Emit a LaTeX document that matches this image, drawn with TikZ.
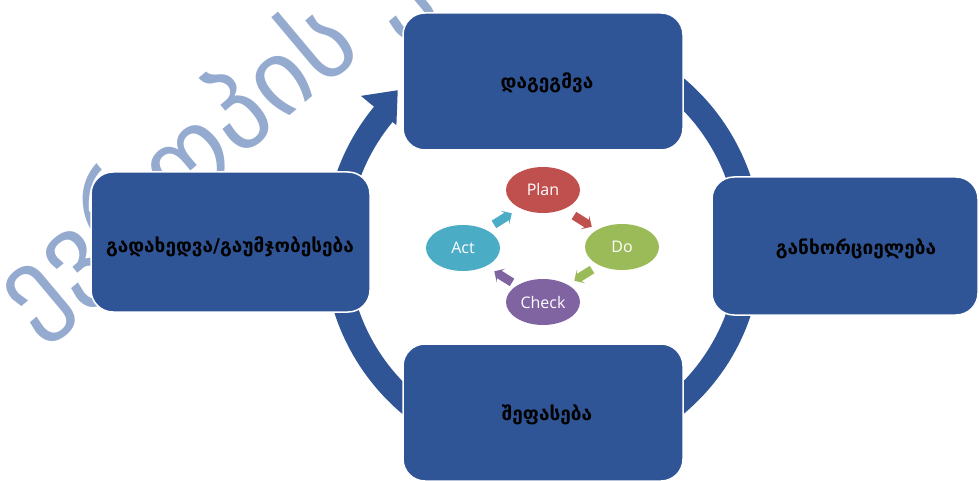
\documentclass[tikz,border=0pt]{standalone}
\usepackage{fontspec}
\setmainfont{DejaVu Sans}
\newfontfamily\geo{DejaVu Sans}
\newfontfamily\latinf{Open Sans}
\usetikzlibrary{shapes.arrows,shapes.geometric}
\definecolor{boxblue}{RGB}{47,85,151}
\definecolor{wmblue}{RGB}{149,170,207}
\definecolor{planred}{RGB}{192,80,77}
\definecolor{dogreen}{RGB}{155,187,89}
\definecolor{checkpurple}{RGB}{128,100,162}
\definecolor{actteal}{RGB}{75,172,198}
\begin{document}
\begin{tikzpicture}[x=1pt,y=-1pt,
  stage/.style={draw=white, line width=1.5pt, fill=boxblue, rounded corners=22pt,
    minimum width=280pt, minimum height=137pt, inner sep=0pt},
  stagetext/.style={font=\geo\bfseries\fontsize{19}{21}\selectfont, text=black, inner sep=0pt},
  pdca/.style={ellipse, minimum width=74pt, minimum height=46pt, inner sep=0pt,
    text=white, font=\latinf\fontsize{16}{18}\selectfont},
  minarrow/.style={single arrow, minimum height=21pt, minimum width=16pt, inner sep=4pt,
    single arrow head extend=3.5pt, single arrow head indent=2pt}]
\useasboundingbox (0,0) rectangle (979,481);
\clip (0,0) rectangle (979,481);
% watermark
\node[rotate=40, anchor=base west, text=wmblue, inner sep=0pt,
  font=\geo\fontsize{105}{105}\selectfont] (wm) at (30,334) {ევროპის უნივერსიტეტი};
% ring
\fill[boxblue] ([shift={(543,246)}]-80:219) arc[start angle=-80, end angle=219.5, radius=219]
  -- ([shift={(543,246)}]219.5:236) -- ([shift={(543,246)}]227:213)
  -- ([shift={(543,246)}]219.5:190) -- ([shift={(543,246)}]219.5:195)
  arc[start angle=219.5, end angle=-80, radius=195] -- cycle;
% boxes
\node[stage] (plan) at (543,81.5) {};
\node[stage, minimum width=266pt, minimum height=138pt] (do) at (845,246) {};
\node[stage, minimum height=137pt] (check) at (543,412.5) {};
\node[stage, minimum width=279pt, minimum height=140pt] (act) at (230.5,242) {};
\node[stagetext] (plant) at (547,83) {დაგეგმვა};
\node[stagetext] (dot) at (856,249) {განხორციელება};
\node[stagetext] (checkt) at (547,415) {შეფასება};
\node[stagetext] (actt) at (230,247) {გადახედვა/გაუმჯობესება};
% PDCA
\node[pdca, fill=planred] (p) at (543,190) {Plan};
\node[pdca, fill=dogreen] (d) at (622,247) {Do};
\node[pdca, fill=checkpurple] (c) at (543,302) {Check};
\node[pdca, fill=actteal] (a) at (463,248) {Act};
\node[minarrow, fill=planred, rotate=-32] (pd) at (581,220) {};
\node[minarrow, fill=dogreen, rotate=-148] (dc) at (585,274) {};
\node[minarrow, fill=checkpurple, rotate=148] (ca) at (505,278) {};
\node[minarrow, fill=actteal, rotate=32] (ap) at (501,220) {};
\end{tikzpicture}
\end{document}
